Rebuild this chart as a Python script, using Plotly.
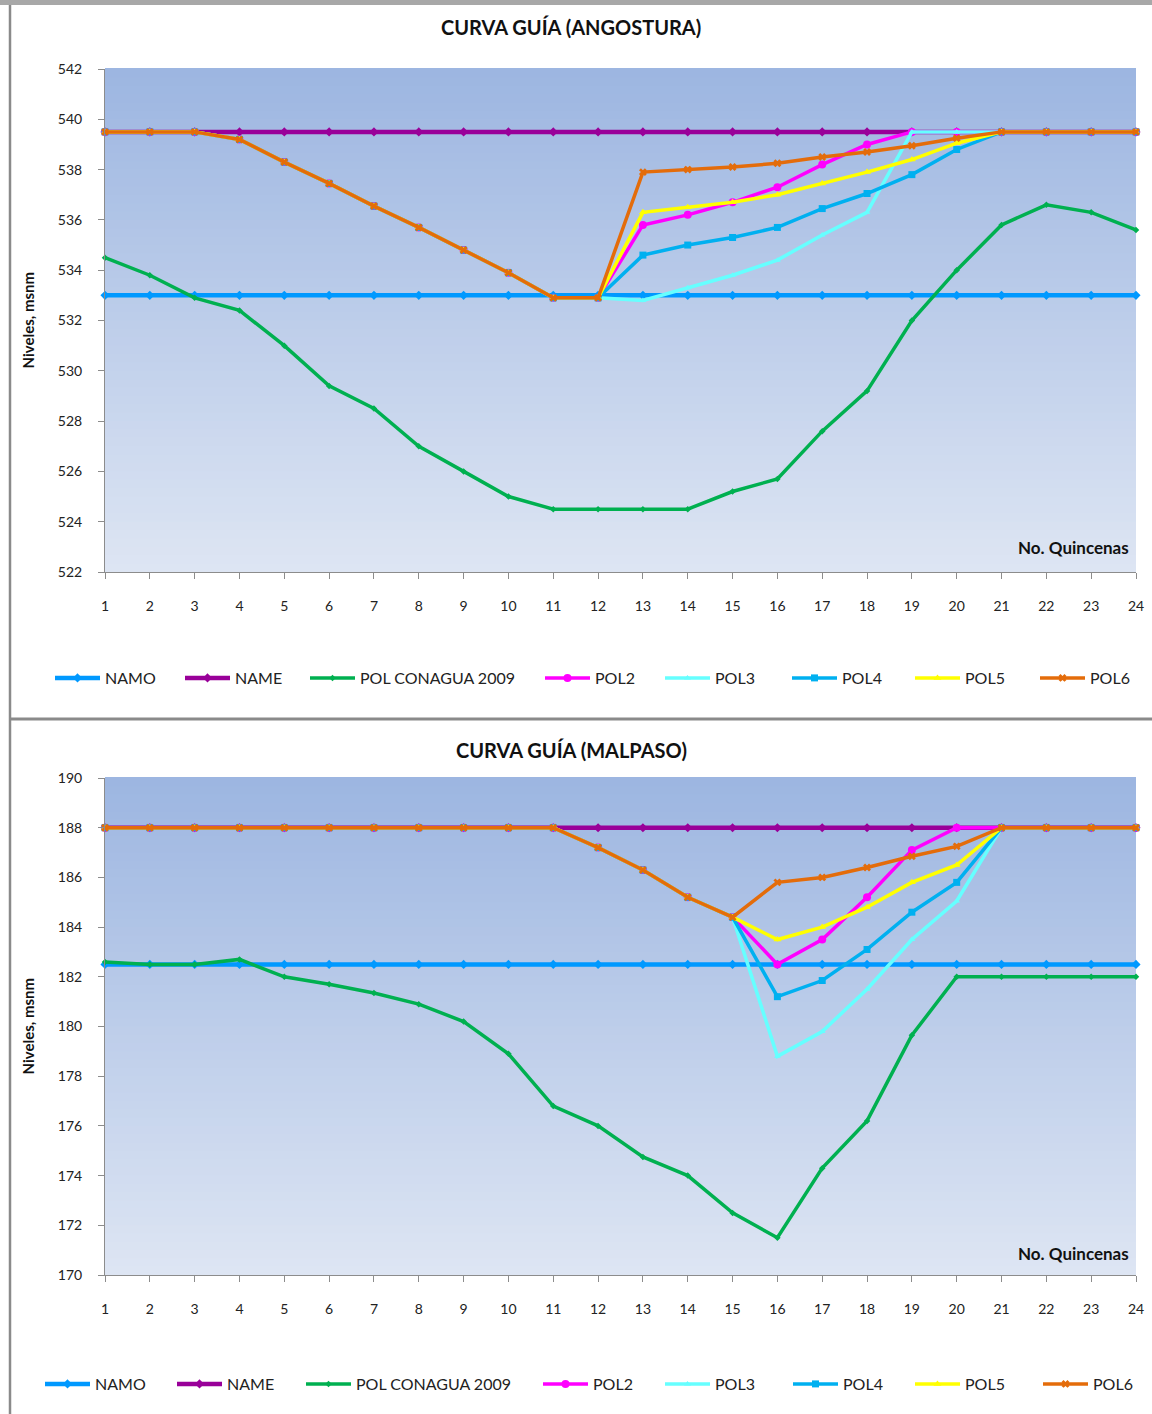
import plotly.graph_objects as go

W, H = 1152, 1414

quincenas = list(range(1, 25))
x_ticks = [str(q) for q in quincenas]

# ---------------- ANGOSTURA ----------------
namo_a = [533.0, 533.0, 533.0, 533.0, 533.0, 533.0, 533.0, 533.0, 533.0, 533.0, 533.0, 533.0,
          533.0, 533.0, 533.0, 533.0, 533.0, 533.0, 533.0, 533.0, 533.0, 533.0, 533.0, 533.0]
name_a = [539.5, 539.5, 539.5, 539.5, 539.5, 539.5, 539.5, 539.5, 539.5, 539.5, 539.5, 539.5,
          539.5, 539.5, 539.5, 539.5, 539.5, 539.5, 539.5, 539.5, 539.5, 539.5, 539.5, 539.5]
conagua_a = [534.5, 533.8, 532.9, 532.4, 531.0, 529.4, 528.5, 527.0, 526.0, 525.0, 524.5, 524.5,
             524.5, 524.5, 525.2, 525.7, 527.6, 529.2, 532.0, 534.0, 535.8, 536.6, 536.3, 535.6]
pol2_a = [539.5, 539.5, 539.5, 539.2, 538.3, 537.45, 536.55, 535.7, 534.8, 533.9, 532.9, 532.9,
          535.8, 536.2, 536.7, 537.3, 538.2, 539.0, 539.5, 539.5, 539.5, 539.5, 539.5, 539.5]
pol3_a = [539.5, 539.5, 539.5, 539.2, 538.3, 537.45, 536.55, 535.7, 534.8, 533.9, 532.9, 532.9,
          532.8, 533.3, 533.8, 534.4, 535.4, 536.3, 539.5, 539.5, 539.5, 539.5, 539.5, 539.5]
pol4_a = [539.5, 539.5, 539.5, 539.2, 538.3, 537.45, 536.55, 535.7, 534.8, 533.9, 532.9, 532.9,
          534.6, 535.0, 535.3, 535.7, 536.45, 537.05, 537.8, 538.8, 539.5, 539.5, 539.5, 539.5]
pol5_a = [539.5, 539.5, 539.5, 539.2, 538.3, 537.45, 536.55, 535.7, 534.8, 533.9, 532.9, 532.9,
          536.3, 536.5, 536.7, 537.0, 537.45, 537.9, 538.4, 539.05, 539.5, 539.5, 539.5, 539.5]
pol6_a = [539.5, 539.5, 539.5, 539.2, 538.3, 537.45, 536.55, 535.7, 534.8, 533.9, 532.9, 532.9,
          537.9, 538.0, 538.1, 538.25, 538.5, 538.7, 538.95, 539.25, 539.5, 539.5, 539.5, 539.5]

# ---------------- MALPASO ----------------
namo_m = [182.5, 182.5, 182.5, 182.5, 182.5, 182.5, 182.5, 182.5, 182.5, 182.5, 182.5, 182.5,
          182.5, 182.5, 182.5, 182.5, 182.5, 182.5, 182.5, 182.5, 182.5, 182.5, 182.5, 182.5]
name_m = [188.0, 188.0, 188.0, 188.0, 188.0, 188.0, 188.0, 188.0, 188.0, 188.0, 188.0, 188.0,
          188.0, 188.0, 188.0, 188.0, 188.0, 188.0, 188.0, 188.0, 188.0, 188.0, 188.0, 188.0]
conagua_m = [182.6, 182.5, 182.5, 182.7, 182.0, 181.7, 181.35, 180.9, 180.2, 178.9, 176.8, 176.0,
             174.75, 174.0, 172.5, 171.5, 174.3, 176.2, 179.65, 182.0, 182.0, 182.0, 182.0, 182.0]
pol2_m = [188.0, 188.0, 188.0, 188.0, 188.0, 188.0, 188.0, 188.0, 188.0, 188.0, 188.0, 187.2,
          186.3, 185.2, 184.4, 182.5, 183.5, 185.2, 187.1, 188.0, 188.0, 188.0, 188.0, 188.0]
pol3_m = [188.0, 188.0, 188.0, 188.0, 188.0, 188.0, 188.0, 188.0, 188.0, 188.0, 188.0, 187.2,
          186.3, 185.2, 184.4, 178.8, 179.8, 181.5, 183.5, 185.05, 188.0, 188.0, 188.0, 188.0]
pol4_m = [188.0, 188.0, 188.0, 188.0, 188.0, 188.0, 188.0, 188.0, 188.0, 188.0, 188.0, 187.2,
          186.3, 185.2, 184.4, 181.2, 181.85, 183.1, 184.6, 185.8, 188.0, 188.0, 188.0, 188.0]
pol5_m = [188.0, 188.0, 188.0, 188.0, 188.0, 188.0, 188.0, 188.0, 188.0, 188.0, 188.0, 187.2,
          186.3, 185.2, 184.4, 183.5, 184.0, 184.8, 185.8, 186.5, 188.0, 188.0, 188.0, 188.0]
pol6_m = [188.0, 188.0, 188.0, 188.0, 188.0, 188.0, 188.0, 188.0, 188.0, 188.0, 188.0, 187.2,
          186.3, 185.2, 184.4, 185.8, 186.0, 186.4, 186.85, 187.25, 188.0, 188.0, 188.0, 188.0]

series_names = ["NAMO", "NAME", "POL CONAGUA 2009", "POL2", "POL3", "POL4", "POL5", "POL6"]
colors = ["#0099FF", "#990099", "#00B050", "#FF00FF", "#66FFFF", "#00B0F0", "#FFFF00", "#E46C0A"]
widths = [4.5, 4.5, 3.5, 3.5, 3.5, 3.5, 3.5, 3.5]
symbols = ["diamond", "diamond", "diamond", "circle", "triangle-up", "square", "triangle-up", "x"]
msizes = [7, 7, 5, 8, 6, 7, 7, 7]

angostura = [namo_a, name_a, conagua_a, pol2_a, pol3_a, pol4_a, pol5_a, pol6_a]
malpaso = [namo_m, name_m, conagua_m, pol2_m, pol3_m, pol4_m, pol5_m, pol6_m]

# legend entry start positions (px) for each chart
legend_x_top = [55, 185, 310, 545, 665, 792, 915, 1040]
legend_x_bot = [45, 177, 306, 543, 665, 793, 915, 1043]
legend_y_top = 678
legend_y_bot = 1384

def px_x(p):
    return p / W

def px_y(p):
    return 1 - p / H

fig = go.Figure()

legend_font = dict(family="Lato, 'Open Sans', sans-serif", size=16, color="#222222")
legend_layouts = {}

def add_chart(data, xa, ya, leg_offset, leg_xs, leg_y):
    for k, (nm, vals, c, w, s, ms) in enumerate(zip(series_names, data, colors, widths, symbols, msizes)):
        idx = leg_offset + k
        lname = "legend" if idx == 1 else f"legend{idx}"
        fig.add_trace(go.Scatter(
            x=quincenas, y=vals, name=nm, mode="lines+markers",
            line=dict(color=c, width=w),
            marker=dict(symbol=s, size=ms, color=c),
            xaxis=xa, yaxis=ya, legend=lname, cliponaxis=False,
        ))
        legend_layouts[lname] = dict(
            orientation="h", x=px_x(leg_xs[k] - 5), y=px_y(leg_y), xanchor="left",
            yanchor="middle", font=legend_font, bgcolor="rgba(0,0,0,0)", itemwidth=45,
            borderwidth=0,
        )

add_chart(angostura, "x", "y", 1, legend_x_top, legend_y_top)
add_chart(malpaso, "x2", "y2", 9, legend_x_bot, legend_y_bot)

x_dom = [px_x(105), px_x(1136)]
top_dom = [px_y(572), px_y(69)]
bot_dom = [px_y(1275), px_y(778)]

axis_font = dict(family="Lato, 'Open Sans', sans-serif", size=14, color="#222222")

xcommon = dict(
    domain=x_dom, range=[1, 24], tickmode="array", tickvals=quincenas, ticktext=x_ticks,
    showgrid=False, zeroline=False, showline=True, linecolor="#8C8C8C", linewidth=1,
    ticks="outside", ticklen=6, tickcolor="#8C8C8C", tickfont=axis_font,
    ticklabelstandoff=15, ticklabeloverflow="allow", automargin=False,
)
ycommon = dict(
    dtick=2, showgrid=False, zeroline=False, showline=True, linecolor="#8C8C8C",
    linewidth=1, ticks="outside", ticklen=6, tickcolor="#8C8C8C", tickfont=axis_font,
    ticklabelstandoff=13, automargin=False,
)

fig.update_layout(
    xaxis=dict(anchor="y", **xcommon),
    yaxis=dict(anchor="x", domain=top_dom, range=[522, 542], **ycommon),
    xaxis2=dict(anchor="y2", **xcommon),
    yaxis2=dict(anchor="x2", domain=bot_dom, range=[170, 190], **ycommon),
)

# gradient plot-area backgrounds
top_rgb = (157, 182, 225)
bot_rgb = (221, 229, 243)
N = 60
shapes = []
for xr, yr in (("x domain", "y domain"), ("x2 domain", "y2 domain")):
    for i in range(N):
        t = i / (N - 1)
        r = round(bot_rgb[0] + (top_rgb[0] - bot_rgb[0]) * t)
        g = round(bot_rgb[1] + (top_rgb[1] - bot_rgb[1]) * t)
        b = round(bot_rgb[2] + (top_rgb[2] - bot_rgb[2]) * t)
        shapes.append(dict(
            type="rect", xref=xr, yref=yr, x0=0, x1=1, y0=i / N, y1=(i + 1) / N + 0.002,
            fillcolor=f"rgb({r},{g},{b})", line=dict(width=0), layer="below",
        ))

# chart frames
frame_col = "#8A8A8A"
shapes += [
    dict(type="rect", xref="paper", yref="paper", x0=0, x1=1, y0=px_y(5), y1=1,
         fillcolor="#A8A8A8", line=dict(width=0), layer="below"),
    dict(type="line", xref="paper", yref="paper", x0=px_x(10), x1=px_x(10),
         y0=0, y1=px_y(5), line=dict(color=frame_col, width=2.5)),
    dict(type="line", xref="paper", yref="paper", x0=px_x(10), x1=1,
         y0=px_y(719), y1=px_y(719), line=dict(color=frame_col, width=3)),
]

title_font = dict(family="Lato, 'Open Sans', sans-serif", size=20, color="#111111")
lab_font = dict(family="Lato, 'Open Sans', sans-serif", size=15, color="#111111")
nq_font = dict(family="Lato, 'Open Sans', sans-serif", size=17, color="#111111")

annotations = []
for title, ty, plot_top, plot_bot, nq_y in (
    ("CURVA GUÍA (ANGOSTURA)", 27, 69, 572, 547),
    ("CURVA GUÍA (MALPASO)", 750, 778, 1275, 1253),
):
    annotations.append(dict(
        text=f"<b>{title}</b>", xref="paper", yref="paper", x=px_x(571), y=px_y(ty),
        xanchor="center", yanchor="middle", showarrow=False, font=title_font,
    ))
    annotations.append(dict(
        text="<b>Niveles, msnm</b>", xref="paper", yref="paper", x=px_x(27),
        y=px_y((plot_top + plot_bot) / 2), xanchor="center", yanchor="middle",
        textangle=-90, showarrow=False, font=lab_font,
    ))
    annotations.append(dict(
        text="<b>No. Quincenas</b>", xref="paper", yref="paper", x=px_x(1131),
        y=px_y(nq_y), xanchor="right", yanchor="middle", showarrow=False, font=nq_font,
    ))

fig.update_layout(
    width=W, height=H,
    margin=dict(l=0, r=0, t=0, b=0, pad=0, autoexpand=False),
    paper_bgcolor="white", plot_bgcolor="rgba(0,0,0,0)",
    shapes=shapes, annotations=annotations,
    showlegend=True,
    **legend_layouts,
)

fig.write_html(
    "out.html",
    config={"displayModeBar": False},
    post_script="document.body.style.margin='0';document.body.style.overflow='hidden';",
)
